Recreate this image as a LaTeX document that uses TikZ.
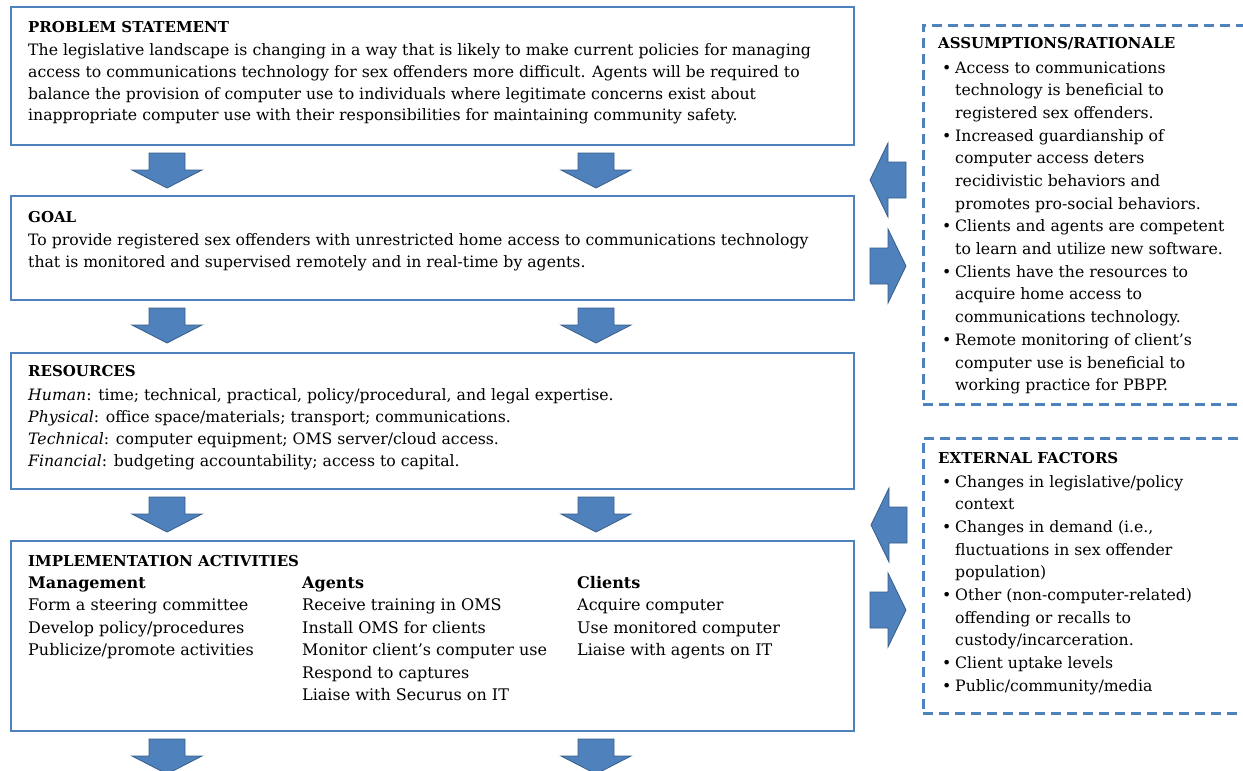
\documentclass[tikz,border=0pt]{standalone}
\usepackage{fontspec}
\setmainfont{DejaVu Serif}
\definecolor{boxblue}{HTML}{4F81BD}
\definecolor{arrowedge}{HTML}{385D8A}
\newcommand\lines[1]{\begin{tabular}[t]{@{}l@{}}#1\end{tabular}}
\newcommand\bul{\makebox[13pt][l]{•}}
\newcommand\ind{\hspace*{13pt}}
\newcommand\ttl[1]{{\fontsize{15}{22}\selectfont\bfseries #1}}
\tikzset{
  box/.style={draw=boxblue, line width=2pt, inner sep=0pt, anchor=north west},
  dbox/.style={draw=boxblue, line width=2.5pt, dash pattern=on 10pt off 6pt, inner sep=0pt, anchor=north west},
  txt/.style={inner sep=0pt, anchor=base west, font=\fontsize{15.7}{22}\selectfont},
  rtxt/.style={inner sep=0pt, anchor=base west, font=\fontsize{15.7}{22.7}\selectfont},
  itxt/.style={inner sep=0pt, anchor=base west, font=\fontsize{16}{22.5}\selectfont},
  afill/.style={fill=boxblue, draw=arrowedge, line width=0.8pt, line join=miter},
  downarr/.pic={\path[afill] (-18,0) -- (18,0) -- (18,17) -- (35,17) -- (0,35) -- (-35,17) -- (-18,17) -- cycle;},
  leftarr/.pic={\path[afill] (0,0) -- (18,-37) -- (18,-18) -- (36,-18) -- (36,18) -- (18,18) -- (18,37) -- cycle;},
  rightarr/.pic={\path[afill] (0,0) -- (-18,-37) -- (-18,-18) -- (-36,-18) -- (-36,18) -- (-18,18) -- (-18,37) -- cycle;}
}
\begin{document}
\begin{tikzpicture}[x=1pt,y=-1pt]
\useasboundingbox (0,0) rectangle (1243,771);
\clip (0,0) rectangle (1243,771);
\fill[white] (0,0) rectangle (1243,771);

% main boxes
\node[box, minimum width=843pt, minimum height=138pt] (ps) at (10,6) {};
\node[box, minimum width=843pt, minimum height=104pt] (gl) at (10,195) {};
\node[box, minimum width=843pt, minimum height=136pt] (rs) at (10,352) {};
\node[box, minimum width=843pt, minimum height=190pt] (im) at (10,540) {};

% dashed boxes
\node[dbox, minimum width=340pt, minimum height=379pt] (as) at (922,24) {};
\node[dbox, minimum width=340pt, minimum height=275pt] (ef) at (922,437) {};

% problem statement
\node[txt] (psT) at (28,32) {\ttl{PROBLEM STATEMENT}};
\node[txt] (psB) at (28,55) {\lines{The legislative landscape is changing in a way that is likely to make current policies for managing\\
access to communications technology for sex offenders more difficult. Agents will be required to\\
balance the provision of computer use to individuals where legitimate concerns exist about\\
inappropriate computer use with their responsibilities for maintaining community safety.}};

% goal
\node[txt] (glT) at (28,222) {\ttl{GOAL}};
\node[txt] (glB) at (28,245) {\lines{To provide registered sex offenders with unrestricted home access to communications technology\\
that is monitored and supervised remotely and in real-time by agents.}};

% resources
\node[txt] (rsT) at (28,376) {\ttl{RESOURCES}};
\node[txt] (rsB) at (28,400) {\lines{\textit{Human}: time; technical, practical, policy/procedural, and legal expertise.\\
\textit{Physical}: office space/materials; transport; communications.\\
\textit{Technical}: computer equipment; OMS server/cloud access.\\
\textit{Financial}: budgeting accountability; access to capital.}};

% implementation
\node[itxt] (imT) at (28,566) {\ttl{IMPLEMENTATION ACTIVITIES}};
\node[itxt] (imM) at (28,588) {\lines{\bfseries Management\\Form a steering committee\\Develop policy/procedures\\Publicize/promote activities}};
\node[itxt] (imA) at (302,588) {\lines{\bfseries Agents\\Receive training in OMS\\Install OMS for clients\\Monitor client’s computer use\\Respond to captures\\Liaise with Securus on IT}};
\node[itxt] (imC) at (577,588) {\lines{\bfseries Clients\\Acquire computer\\Use monitored computer\\Liaise with agents on IT}};

% assumptions
\node[txt] (asT) at (938,48) {\ttl{ASSUMPTIONS/RATIONALE}};
\node[rtxt] (asB) at (942,73) {\lines{\bul Access to communications\\
\ind technology is beneficial to\\
\ind registered sex offenders.\\
\bul Increased guardianship of\\
\ind computer access deters\\
\ind recidivistic behaviors and\\
\ind promotes pro-social behaviors.\\
\bul Clients and agents are competent\\
\ind to learn and utilize new software.\\
\bul Clients have the resources to\\
\ind acquire home access to\\
\ind communications technology.\\
\bul Remote monitoring of client’s\\
\ind computer use is beneficial to\\
\ind working practice for PBPP.}};

% external factors
\node[txt] (efT) at (938,463) {\ttl{EXTERNAL FACTORS}};
\node[rtxt] (efB) at (942,487) {\lines{\bul Changes in legislative/policy\\
\ind context\\
\bul Changes in demand (i.e.,\\
\ind fluctuations in sex offender\\
\ind population)\\
\bul Other (non-computer-related)\\
\ind offending or recalls to\\
\ind custody/incarceration.\\
\bul Client uptake levels\\
\bul Public/community/media}};

% down arrows
\pic at (167,153) {downarr};
\pic at (596,153) {downarr};
\pic at (167,308) {downarr};
\pic at (596,308) {downarr};
\pic at (167,497) {downarr};
\pic at (596,497) {downarr};
\pic at (167,739) {downarr};
\pic at (596,739) {downarr};

% side arrows
\pic at (870,180) {leftarr};
\pic at (906,266) {rightarr};
\pic at (871,525) {leftarr};
\pic at (906,610) {rightarr};
\end{tikzpicture}
\end{document}
